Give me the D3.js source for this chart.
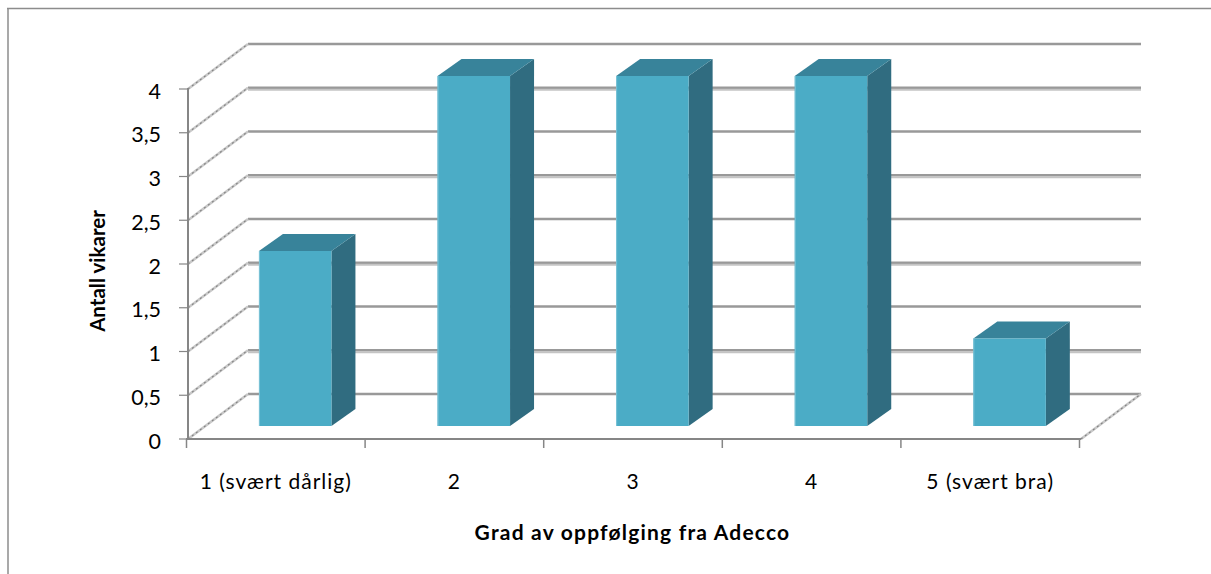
<!DOCTYPE html>
<html>
<head>
<meta charset="utf-8">
<script src="https://cdn.jsdelivr.net/npm/d3@7"></script>
<style>
html,body{margin:0;padding:0;background:#fff}
svg{display:block}
text{font-family:Lato,"Open Sans",sans-serif;fill:#000}
</style>
</head>
<body>
<svg id="chart" width="1211" height="574"></svg>
<script>
const categories = ["1 (svært dårlig)", "2", "3", "4", "5 (svært bra)"];
const antall = [2, 4, 4, 4, 1];
const yTicks = [0, 0.5, 1, 1.5, 2, 2.5, 3, 3.5, 4];
const yTickLabels = ["0", "0,5", "1", "1,5", "2", "2,5", "3", "3,5", "4"];
const xTitle = "Grad av oppfølging fra Adecco";
const yTitle = "Antall vikarer";

const svg = d3.select("#chart");

// Plot frame of the oblique box
const plotLeft = 188, plotRight = 1081, plotBottom = 439, plotTop = 89;
const wallDx = 60, wallDy = -45;   // offset of the back wall from the front plane
const barDx = 24, barDy = -17;     // depth of each column
const floorLift = 13;              // columns stand this far behind the front edge

const x = d3.scaleBand().domain(categories).range([plotLeft - 1.5, plotRight - 1.5]).paddingInner(0).paddingOuter(0);
const y = d3.scaleLinear().domain([0, 4]).range([plotBottom, plotTop]);

// Chart area border: only the top and left edges fall inside the page
svg.append("line").attr("x1", 7).attr("x2", 1211).attr("y1", 8.5).attr("y2", 8.5)
  .attr("stroke", "#8c8c8c").attr("stroke-width", 1.5);
svg.append("line").attr("x1", 8).attr("x2", 8).attr("y1", 8).attr("y2", 574)
  .attr("stroke", "#8c8c8c").attr("stroke-width", 1.5);

// Slanted wall lines are a soft band with a dashed darker core
function sideLine(g, x1, y1, x2, y2) {
  g.append("line").attr("x1", x1).attr("y1", y1).attr("x2", x2).attr("y2", y2)
    .attr("stroke", "#c8c8c8").attr("stroke-width", 2.6);
  g.append("line").attr("x1", x1).attr("y1", y1).attr("x2", x2).attr("y2", y2)
    .attr("stroke", "#858585").attr("stroke-width", 1.1).attr("stroke-dasharray", "2 3");
}

// Gridlines on the back wall and the slanted side wall
const grid = svg.append("g");
yTicks.forEach(t => {
  const yy = y(t);
  grid.append("line")
    .attr("x1", plotLeft + wallDx).attr("x2", plotRight + wallDx)
    .attr("y1", yy + wallDy).attr("y2", yy + wallDy)
    .attr("stroke", "#999").attr("stroke-width", 2.5);
  if (t % 1) {
    grid.append("line")
      .attr("x1", plotLeft + wallDx).attr("x2", plotRight + wallDx)
      .attr("y1", yy + wallDy + 2).attr("y2", yy + wallDy + 2)
      .attr("stroke", "#c4c4c4").attr("stroke-width", 2);
  }
  sideLine(grid, plotLeft, yy, plotLeft + wallDx, yy + wallDy);
});

// Right end of the floor
sideLine(grid, plotRight, plotBottom, plotRight + wallDx, plotBottom + wallDy);

// Axes
const axisColor = "#868686";
const axes = svg.append("g");
axes.append("line").attr("x1", plotLeft).attr("x2", plotLeft).attr("y1", plotTop - 1).attr("y2", plotBottom + 1)
  .attr("stroke", axisColor).attr("stroke-width", 2);
axes.append("line").attr("x1", plotLeft - 2).attr("x2", plotRight).attr("y1", plotBottom).attr("y2", plotBottom)
  .attr("stroke", axisColor).attr("stroke-width", 2.2);
yTicks.forEach((t, i) => {
  axes.append("line").attr("x1", plotLeft - 9).attr("x2", plotLeft).attr("y1", y(t)).attr("y2", y(t))
    .attr("stroke", axisColor).attr("stroke-width", 1.2);
  axes.append("text").attr("x", plotLeft - 27).attr("y", y(t) + 2).attr("dy", "0.35em")
    .attr("text-anchor", "end").attr("font-size", 21.5).text(yTickLabels[i]);
});
const xTickPositions = categories.map(c => x(c)).concat(x.range()[1]);
xTickPositions.forEach(px => {
  axes.append("line").attr("x1", px).attr("x2", px).attr("y1", plotBottom).attr("y2", plotBottom + 9)
    .attr("stroke", axisColor).attr("stroke-width", 1.5);
});

// Columns: front, top and side faces
const barWidth = 72.5;
const barGroup = svg.append("g");
categories.forEach((c, i) => {
  const v = antall[i];
  const x0 = x(c) + x.bandwidth() * 0.4 + 1;
  const x1 = x0 + barWidth;
  const y0 = y(v) - floorLift;
  const y1 = y(0) - floorLift;
  const pts = a => a.map(p => p.join(",")).join(" ");
  barGroup.append("polygon")
    .attr("points", pts([[x1, y0], [x1 + barDx, y0 + barDy], [x1 + barDx, y1 + barDy], [x1, y1]]))
    .attr("fill", "#306c80");
  barGroup.append("polygon")
    .attr("points", pts([[x0, y0], [x0 + barDx, y0 + barDy], [x1 + barDx, y0 + barDy], [x1, y0]]))
    .attr("fill", "#38839a");
  barGroup.append("rect")
    .attr("x", x0).attr("y", y0).attr("width", barWidth).attr("height", y1 - y0)
    .attr("fill", "#4bacc6");
  barGroup.append("line")
    .attr("x1", x0 + 0.5).attr("x2", x0 + 0.5).attr("y1", y0).attr("y2", y1)
    .attr("stroke", "#7cc3d6").attr("stroke-width", 1);
});

// Category labels and axis titles
categories.forEach(c => {
  svg.append("text")
    .attr("x", x(c) + x.bandwidth() / 2)
    .attr("y", 481.5).attr("dy", "0.35em")
    .attr("text-anchor", "middle").attr("font-size", 21).attr("letter-spacing", 1).text(c);
});
svg.append("text").attr("x", 632.5).attr("y", 532.5).attr("dy", "0.35em")
  .attr("text-anchor", "middle").attr("font-size", 21).attr("letter-spacing", 1.2)
  .attr("font-weight", 700).text(xTitle);
svg.append("text").attr("transform", "translate(98,271) rotate(-90)").attr("dy", "0.35em")
  .attr("text-anchor", "middle").attr("font-size", 20.5)
  .attr("font-weight", 700).text(yTitle);
</script>
</body>
</html>
